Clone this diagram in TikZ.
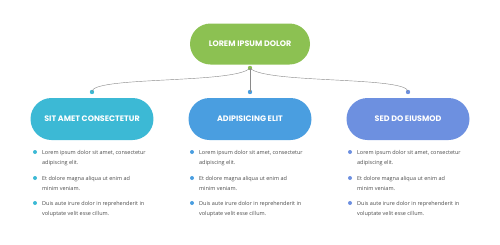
\documentclass[tikz,border=0pt]{standalone}
\usepackage{fontspec}
\setmainfont{Open Sans}
\newfontfamily\headfont{Poppins}
\usepackage{tikz}
\usetikzlibrary{positioning, shapes.misc}
\definecolor{leaf}{HTML}{8CC152}
\definecolor{aqua}{HTML}{3CB9D5}
\definecolor{sky}{HTML}{4A9EE0}
\definecolor{iris}{HTML}{6D90E0}
\definecolor{ink}{HTML}{4A4A4A}
\definecolor{wire}{HTML}{8A8A8A}
\tikzset{
  pill/.style={rounded rectangle, draw=none, fill=#1, text=white, font=\headfont\bfseries\fontsize{11.3}{13}\selectfont,
               minimum height=2.1cm, minimum width=6.15cm, inner sep=0pt},
  pill/.default=aqua,
  dot/.style={circle, fill=#1, minimum size=0.22cm, inner sep=0pt},
  conn/.style={draw=wire, line width=0.6pt},
  item/.style={anchor=base west, align=left, text=ink, inner sep=0pt,
               font=\fontsize{7.8}{13.5}\selectfont},
  bul/.style={circle, fill=#1, minimum size=0.2cm, inner sep=0pt},
}

\begin{document}
\begin{tikzpicture}[x=0.05cm, y=-0.05cm]
  \useasboundingbox (0,0) rectangle (500,244);
  % boxes
  \node[pill=leaf, minimum width=6cm, minimum height=2.05cm] (top) at (250,44) {LOREM IPSUM DOLOR};
  \node[pill=aqua] (left) at (92,119) {SIT AMET CONSECTETUR};
  \node[pill=sky] (mid) at (250,119) {ADIPISICING ELIT};
  \node[pill=iris] (right) at (408,119) {SED DO EIUSMOD};
  % connectors
  \node[dot=leaf] (d0) at (250,68) {};
  \node[dot=aqua] (d1) at (92,92) {};
  \node[dot=sky] (d2) at (250,92) {};
  \node[dot=iris] (d3) at (408,92) {};
  \draw[conn] (d0.center) .. controls (236,84) and (90,76) .. (d1.center);
  \draw[conn] (d0.center) -- (d2.center);
  \draw[conn] (d0.center) .. controls (264,84) and (410,76) .. (d3.center);
  % bullet lists (node base = last line)
  \foreach \x/\c/\n in {35/aqua/l, 192/sky/m, 350/iris/r} {
    \node[bul=\c] (\n b1) at (\x,152) {};
    \node[bul=\c] (\n b2) at (\x,178) {};
    \node[bul=\c] (\n b3) at (\x,203) {};
    \node[item] (\n t1) at (\x+7,164) {Lorem ipsum dolor sit amet, consectetur\\adipiscing elit.};
    \node[item] (\n t2) at (\x+7,190) {Et dolore magna aliqua ut enim ad\\minim veniam.};
    \node[item] (\n t3) at (\x+7,215) {Duis aute irure dolor in reprehenderit in\\voluptate velit esse cillum.};
  }
\end{tikzpicture}
\end{document}
